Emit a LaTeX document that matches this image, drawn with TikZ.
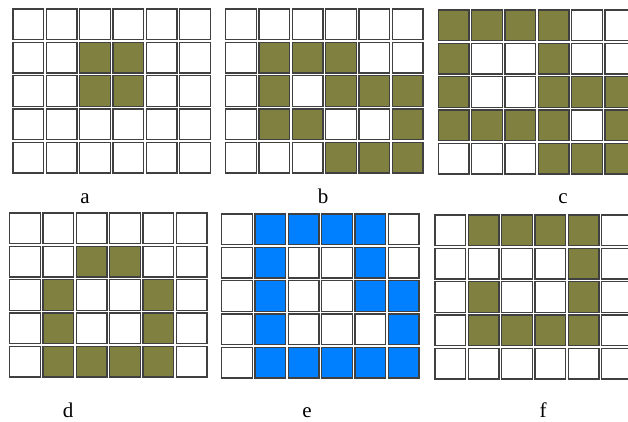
\documentclass[tikz,border=0pt]{standalone}
\usepackage{fontspec}
\setmainfont{Liberation Serif}
\definecolor{olivecell}{RGB}{128,128,64}
\definecolor{bluecell}{RGB}{0,128,255}
\tikzset{
  emptycell/.style={draw=black!75, line width=1.3pt, fill=white, minimum size=30.5pt, inner sep=0pt, rectangle},
  fillcell/.style={emptycell, fill=\gcol},
  lbl/.style={anchor=base, font=\fontsize{21}{24}\selectfont, inner sep=0pt}
}
\newcommand{\cellgrid}[5]{%
  \def\gcol{#4}%
  \foreach \rowv [count=\r from 0] in {#5} {
    \foreach \v [count=\c from 0] in \rowv {
      \ifnum\v=1 \def\st{fillcell}\else\def\st{emptycell}\fi
      \node[\st] (#1-\r-\c) at ({#2+16+\c*33.33},{#3+16+\r*33.33}) {};
    }
  }%
}
\begin{document}
\begin{tikzpicture}[x=1pt,y=-1pt]
\useasboundingbox (0,0) rectangle (628,422);
\clip (0,0) rectangle (628,422);
\cellgrid{a}{12.3}{8.3}{olivecell}{{0,0,0,0,0,0},{0,0,1,1,0,0},{0,0,1,1,0,0},{0,0,0,0,0,0},{0,0,0,0,0,0}}
\cellgrid{b}{225}{8.3}{olivecell}{{0,0,0,0,0,0},{0,1,1,1,0,0},{0,1,0,1,1,1},{0,1,1,0,0,1},{0,0,0,1,1,1}}
\cellgrid{c}{437.7}{9.3}{olivecell}{{1,1,1,1,0,0},{1,0,0,1,0,0},{1,0,0,1,1,1},{1,1,1,1,0,1},{0,0,0,1,1,1}}
\cellgrid{d}{9}{212.3}{olivecell}{{0,0,0,0,0,0},{0,0,1,1,0,0},{0,1,0,0,1,0},{0,1,0,0,1,0},{0,1,1,1,1,0}}
\cellgrid{e}{221}{213.3}{bluecell}{{0,1,1,1,1,0},{0,1,0,0,1,0},{0,1,0,0,1,1},{0,1,0,0,0,1},{0,1,1,1,1,1}}
\cellgrid{f}{434.3}{214.3}{olivecell}{{0,1,1,1,1,0},{0,0,0,0,1,0},{0,1,0,0,1,0},{0,1,1,1,1,0},{0,0,0,0,0,0}}
\node[lbl] (la) at (85,203) {a};
\node[lbl] (lb) at (323,203) {b};
\node[lbl] (lc) at (563,203) {c};
\node[lbl] (ld) at (68,417) {d};
\node[lbl] (le) at (307,417) {e};
\node[lbl] (lf) at (543,417) {f};
\end{tikzpicture}
\end{document}
